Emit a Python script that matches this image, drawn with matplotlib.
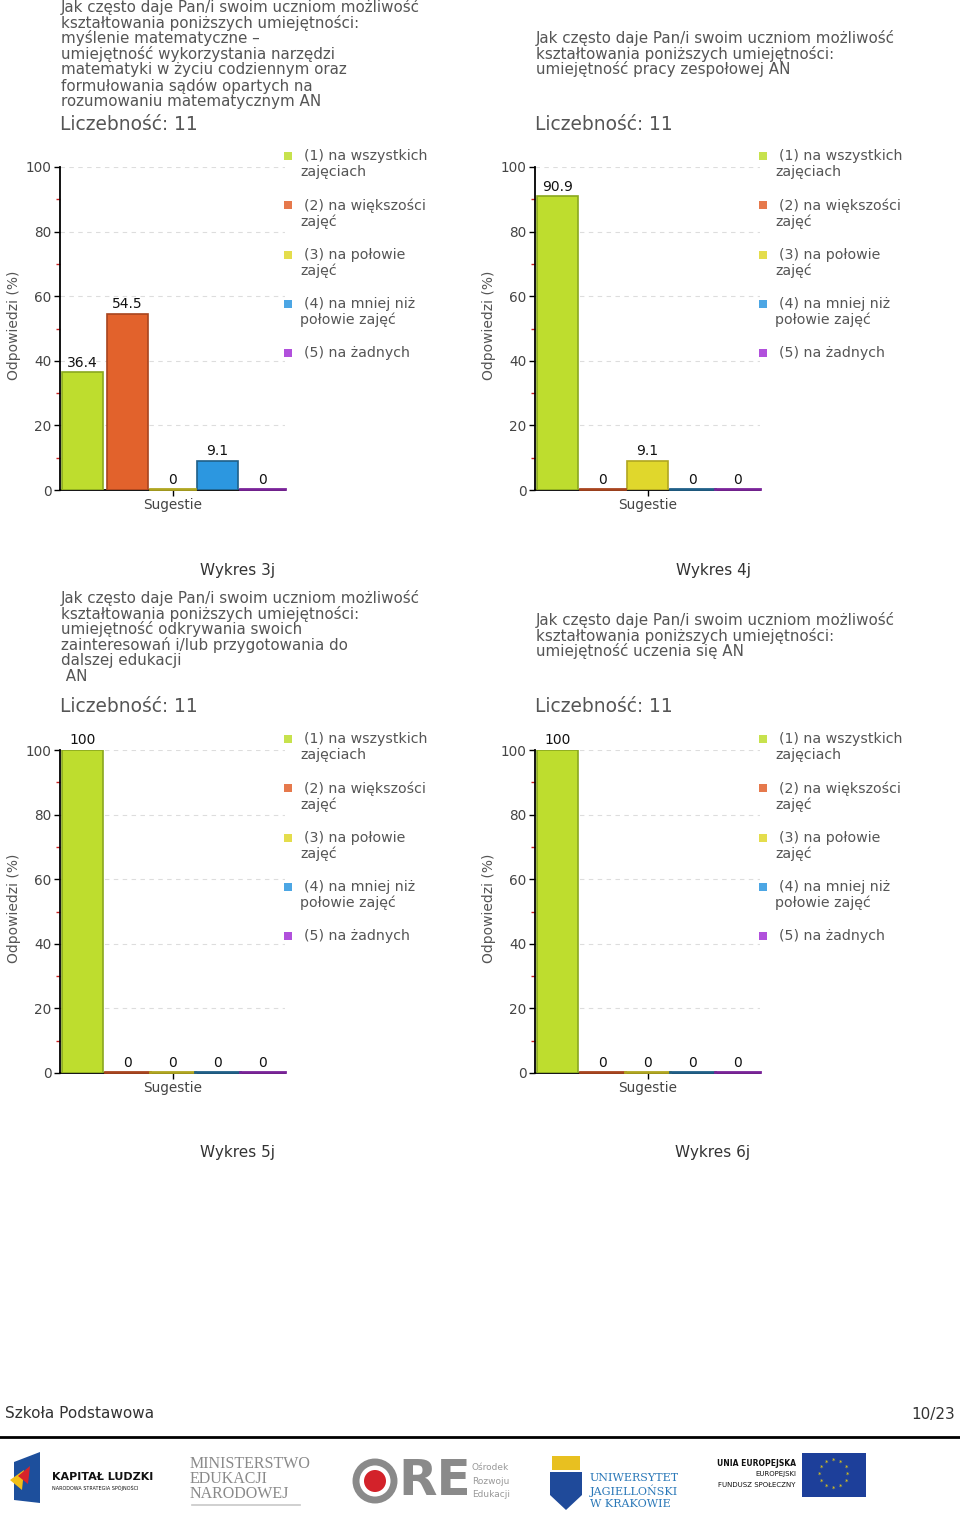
import matplotlib
matplotlib.use("Agg")
import matplotlib.pyplot as plt
import numpy as np
from matplotlib.patches import Rectangle, Ellipse, Polygon

W, H = 960, 1525

# dane
kategorie = ["(1) na wszystkich\nzajęciach", "(2) na większości\nzajęć", "(3) na połowie\nzajęć",
             "(4) na mniej niż\npołowie zajęć", "(5) na żadnych"]
wartosci_3j = [36.4, 54.5, 0, 9.1, 0]
wartosci_4j = [90.9, 0, 9.1, 0, 0]
wartosci_5j = [100, 0, 0, 0, 0]
wartosci_6j = [100, 0, 0, 0, 0]

tytul_3j = ["Jak często daje Pan/i swoim uczniom możliwość",
            "kształtowania poniższych umiejętności:",
            "myślenie matematyczne –",
            "umiejętność wykorzystania narzędzi",
            "matematyki w życiu codziennym oraz",
            "formułowania sądów opartych na",
            "rozumowaniu matematycznym AN"]
tytul_4j = ["Jak często daje Pan/i swoim uczniom możliwość",
            "kształtowania poniższych umiejętności:",
            "umiejętność pracy zespołowej AN"]
tytul_5j = ["Jak często daje Pan/i swoim uczniom możliwość",
            "kształtowania poniższych umiejętności:",
            "umiejętność odkrywania swoich",
            "zainteresowań i/lub przygotowania do",
            "dalszej edukacji",
            " AN"]
tytul_6j = ["Jak często daje Pan/i swoim uczniom możliwość",
            "kształtowania poniższych umiejętności:",
            "umiejętność uczenia się AN"]
liczebnosc = 11

kolory = ["#bedd2e", "#e2622c", "#e0d72c", "#2c97e0", "#a431d6"]
krawedzie = ["#8aa81f", "#a8441e", "#b0a620", "#1f5f88", "#7a2399"]

GRAY = "#555555"

fig = plt.figure(figsize=(W / 100, H / 100), dpi=100)


def fx(x):
    return x / W


def fy(y):
    return 1 - y / H


def napis(x, y, s, **kw):
    fig.text(fx(x), fy(y), s, **kw)


def wykres(x0, ytop, tytul, ytytul, wartosci):
    # tytul nad wykresem
    for i, linia in enumerate(tytul):
        napis(x0 + 1, ytytul + i * 15.7, linia, fontsize=10.9, color=GRAY, va="center", ha="left")
    napis(x0, ytop - 43, "Liczebność: %d" % liczebnosc, fontsize=13.4, color=GRAY, va="center", ha="left")

    y100 = ytop
    y0 = ytop + 323
    ax = fig.add_axes([fx(x0), fy(y0), 225 / W, 323 / H])
    x = np.arange(len(wartosci))
    ax.bar(x, wartosci, width=0.89, color=kolory, edgecolor=krawedzie, linewidth=1.2, zorder=3)
    for i, v in enumerate(wartosci):
        if v == 0:
            ax.plot([i - 0.5, i + 0.5], [0.3, 0.3], color=krawedzie[i], lw=2, zorder=4, clip_on=False)
        etyk = "%g" % v
        ax.annotate(etyk, (i, v), xytext=(0, 2), textcoords="offset points", ha="center", va="bottom",
                    fontsize=10, color="#111111", annotation_clip=False)
    ax.set_xlim(-0.5, 4.5)
    ax.set_ylim(0, 100)
    ax.set_yticks([0, 20, 40, 60, 80, 100])
    ax.set_yticks([10, 30, 50, 70, 90], minor=True)
    ax.set_xticks([2])
    ax.set_xticklabels(["Sugestie"])
    ax.tick_params(axis="y", which="major", length=4, width=1, color="black", labelsize=9.8, labelcolor="#444444", pad=2)
    ax.tick_params(axis="y", which="minor", length=3, width=1, color="#cc2222")
    ax.tick_params(axis="x", length=4, width=1, color="black", labelsize=9.8, labelcolor="#444444", pad=2)
    for s in ["top", "right"]:
        ax.spines[s].set_visible(False)
    ax.spines["left"].set_linewidth(1.3)
    ax.spines["bottom"].set_linewidth(1.3)
    ax.yaxis.grid(True, which="major", linestyle=(0, (4, 4)), color="#dddddd", lw=0.8, zorder=0)
    ax.set_facecolor("none")
    napis(x0 - 46, (y100 + y0) / 2 - 3, "Odpowiedzi (%)", fontsize=10, color=GRAY, rotation=90, ha="center", va="center")

    # legenda
    for i, k in enumerate(kategorie):
        yy = ytop - 11 + i * 49.3
        fig.patches.append(Rectangle((fx(x0 + 224), fy(yy + 4)), 8 / W, 8 / H, transform=fig.transFigure,
                                     facecolor=kolory[i], alpha=0.85, edgecolor="none"))
        linie = k.split("\n")
        napis(x0 + 244, yy, linie[0], fontsize=10.2, color=GRAY, va="center", ha="left")
        if len(linie) > 1:
            napis(x0 + 240, yy + 16, linie[1], fontsize=10.2, color=GRAY, va="center", ha="left")


wykres(60, 167, tytul_3j, 7, wartosci_3j)
wykres(535, 167, tytul_4j, 38, wartosci_4j)
wykres(60, 750, tytul_5j, 598, wartosci_5j)
wykres(535, 750, tytul_6j, 620, wartosci_6j)

napis(238, 570, "Wykres 3j", fontsize=11, color="#333333", ha="center", va="center")
napis(713, 570, "Wykres 4j", fontsize=11, color="#333333", ha="center", va="center")
napis(238, 1153, "Wykres 5j", fontsize=11, color="#333333", ha="center", va="center")
napis(713, 1153, "Wykres 6j", fontsize=11, color="#333333", ha="center", va="center")

# stopka
napis(5, 1414, "Szkoła Podstawowa", fontsize=11, color="#333333", ha="left", va="center")
napis(955, 1414, "10/23", fontsize=11, color="#333333", ha="right", va="center")
fig.add_artist(plt.Line2D([0, 1], [fy(1437), fy(1437)], color="black", lw=2, transform=fig.transFigure))

# logotypy (uproszczone)
fig.patches.append(Polygon([(fx(14), fy(1500)), (fx(14), fy(1462)), (fx(40), fy(1452)), (fx(40), fy(1503))],
                           closed=True, transform=fig.transFigure, facecolor="#1d4f9c"))
fig.patches.append(Polygon([(fx(10), fy(1480)), (fx(24), fy(1470)), (fx(22), fy(1490))],
                           closed=True, transform=fig.transFigure, facecolor="#f2c018"))
fig.patches.append(Polygon([(fx(18), fy(1476)), (fx(30), fy(1466)), (fx(28), fy(1484))],
                           closed=True, transform=fig.transFigure, facecolor="#d6232a"))
napis(52, 1477, "KAPITAŁ LUDZKI", fontsize=8, fontweight="bold", color="#111111", ha="left", va="center")
napis(52, 1488, "NARODOWA STRATEGIA SPÓJNOŚCI", fontsize=3.5, color="#111111", ha="left", va="center")

napis(190, 1479, "MINISTERSTWO\nEDUKACJI\nNARODOWEJ", fontsize=11.5, family="Liberation Serif",
      color="#8a8a8a", ha="left", va="center", linespacing=0.9)
fig.add_artist(plt.Line2D([fx(192), fx(300)], [fy(1505), fy(1505)], color="#c8c8c8", lw=1.2, transform=fig.transFigure))

fig.patches.append(Ellipse((fx(375), fy(1481)), 38 / W, 38 / H, transform=fig.transFigure, facecolor="none",
                           edgecolor="#8a8a8a", lw=5))
fig.patches.append(Ellipse((fx(375), fy(1481)), 22 / W, 22 / H, transform=fig.transFigure, facecolor="#d3222a"))
napis(398, 1481, "RE", fontsize=36, color="#8a8a8a", ha="left", va="center", fontweight="bold")
napis(472, 1481, "Ośrodek\nRozwoju\nEdukacji", fontsize=6.5, color="#999999", ha="left", va="center",
      linespacing=1.6)

fig.patches.append(Polygon([(fx(550), fy(1472)), (fx(582), fy(1472)), (fx(582), fy(1495)), (fx(566), fy(1510)),
                            (fx(550), fy(1495))], closed=True, transform=fig.transFigure, facecolor="#1f4a9a"))
fig.patches.append(Rectangle((fx(552), fy(1470)), 28 / W, 14 / H, transform=fig.transFigure, facecolor="#e8c020"))
napis(590, 1491, "UNIWERSYTET\nJAGIELLOŃSKI\nW KRAKOWIE", fontsize=8, family="DejaVu Serif",
      color="#2a78b8", ha="left", va="center", linespacing=1.15)

napis(796, 1463, "UNIA EUROPEJSKA", fontsize=5.5, fontweight="bold", color="#111111", ha="right", va="center")
napis(796, 1474, "EUROPEJSKI", fontsize=5, color="#111111", ha="right", va="center")
napis(796, 1485, "FUNDUSZ SPOŁECZNY", fontsize=5, color="#111111", ha="right", va="center")
fig.patches.append(Rectangle((fx(802), fy(1497)), 64 / W, 44 / H, transform=fig.transFigure, facecolor="#1d3f9a"))
for k in range(12):
    a = 2 * np.pi * k / 12
    fig.text(fx(834 + 14 * np.cos(a)), fy(1475 + 14 * np.sin(a)), "*", fontsize=5, color="#ffdd00",
             ha="center", va="center")

fig.savefig("out.png", dpi=100, facecolor="white")
